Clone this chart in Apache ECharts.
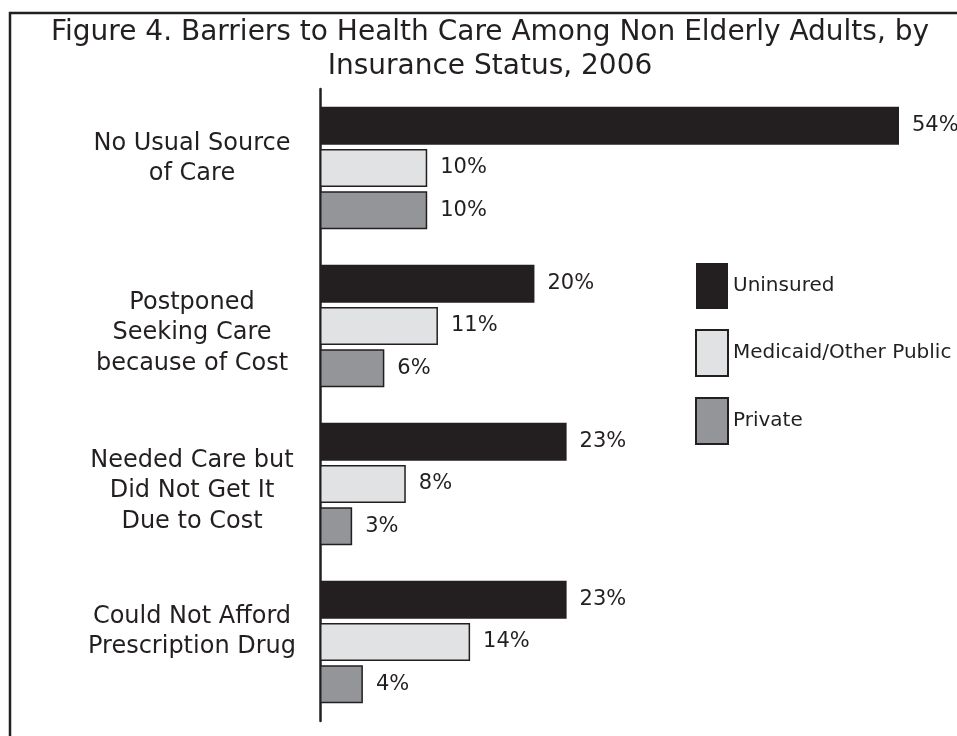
<!DOCTYPE html>
<html>
<head>
<meta charset="utf-8">
<script src="https://cdn.jsdelivr.net/npm/echarts@6/dist/echarts.min.js"></script>
<style>
  html, body { margin: 0; padding: 0; background: #fff; }
  #main { width: 957px; height: 736px; }
</style>
</head>
<body>
<div id="main"></div>
<script>
// categories, top to bottom
const categories = [
  'No Usual Source\nof Care',
  'Postponed\nSeeking Care\nbecause of Cost',
  'Needed Care but\nDid Not Get It\nDue to Cost',
  'Could Not Afford\nPrescription Drug'
]
const seriesNames = ['Uninsured', 'Medicaid/Other Public', 'Private']
const uninsured = [54, 20, 23, 23]
const medicaid = [10, 11, 8, 14]
const privateIns = [10, 6, 3, 4]

const FONT = 'DejaVu Sans'
const INK = '#231f20'

const chart = echarts.init(document.getElementById('main'))

// the original labels sit a bit off their groups: negative = up, positive = down
const labelShift = [-18, 14, 14, -20]
const labelRich = { t: { fontFamily: FONT, fontSize: 24, lineHeight: 30.5, color: INK } }
labelShift.forEach((s, i) => {
  labelRich['g' + i] = { fontSize: 1, lineHeight: Math.abs(s) }
})
const formatCategory = (value, idx) => {
  const lines = value.split('\n').map(l => '{t|' + l + '}')
  const gap = '{g' + idx + '| }'
  if (labelShift[idx] > 0) lines.unshift(gap)
  else lines.push(gap)
  return lines.join('\n')
}

const makeSeries = (name, data, color, border) => ({
  name: name,
  type: 'bar',
  data: data,
  barWidth: 38,
  barGap: '11%',
  itemStyle: { color: color, borderColor: border, borderWidth: border ? 1.5 : 0 },
  label: {
    show: true,
    position: 'right',
    distance: 13,
    formatter: '{c}%',
    fontFamily: FONT,
    fontSize: 21,
    color: INK
  }
})

const option = {
  animation: false,
  backgroundColor: '#fff',
  graphic: [
    {
      type: 'rect',
      shape: { x: 10, y: 13, width: 960, height: 740 },
      style: { fill: 'none', stroke: INK, lineWidth: 2.5 }
    },
    {
      type: 'text',
      x: 490,
      y: 16,
      style: {
        text: 'Figure 4. Barriers to Health Care Among Non Elderly Adults, by\nInsurance Status, 2006',
        fontFamily: FONT,
        fontSize: 28,
        lineHeight: 34,
        fill: INK,
        align: 'center',
        verticalAlign: 'top'
      }
    }
  ],
  legend: {
    orient: 'vertical',
    left: 690,
    top: 258,
    itemWidth: 32,
    itemHeight: 46,
    itemGap: 20,
    icon: 'rect',
    textStyle: { fontFamily: FONT, fontSize: 20, color: INK },
    data: seriesNames
  },
  grid: {
    left: 320,
    right: 58,
    top: 89,
    bottom: 15,
    containLabel: false,
    outerBoundsMode: 'none'
  },
  xAxis: {
    type: 'value',
    min: 0,
    max: 54,
    show: false
  },
  yAxis: {
    type: 'category',
    inverse: true,
    data: categories,
    axisLine: { lineStyle: { color: INK, width: 2.5 } },
    axisTick: { show: false },
    axisLabel: {
      align: 'center',
      margin: 128,
      formatter: formatCategory,
      rich: labelRich
    }
  },
  series: [
    makeSeries(seriesNames[0], uninsured, INK, null),
    makeSeries(seriesNames[1], medicaid, '#e1e2e4', INK),
    makeSeries(seriesNames[2], privateIns, '#939598', INK)
  ]
}

chart.setOption(option)
window.addEventListener('resize', () => {
  chart.resize()
})
</script>
</body>
</html>
